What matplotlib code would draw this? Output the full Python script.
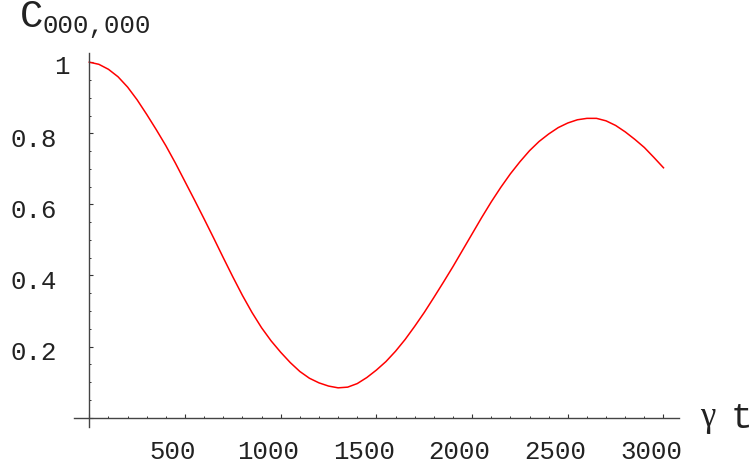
import numpy as np
import matplotlib as mpl

mpl.use("Agg")
import matplotlib.pyplot as plt
from matplotlib.ticker import MultipleLocator

###############################################################################

gamma_t = list(range(0, 3001, 50))
c_000 = [
    1.000, 0.994, 0.980, 0.959, 0.930, 0.894, 0.853, 0.810, 0.765, 0.716,
    0.664, 0.612, 0.559, 0.505, 0.450, 0.396, 0.344, 0.296, 0.253, 0.216,
    0.184, 0.155, 0.130, 0.111, 0.098, 0.089, 0.084, 0.086, 0.096, 0.113,
    0.134, 0.158, 0.187, 0.220, 0.257, 0.296, 0.338, 0.381, 0.425, 0.471,
    0.517, 0.563, 0.607, 0.648, 0.686, 0.720, 0.751, 0.777, 0.798, 0.816,
    0.829, 0.838, 0.842, 0.842, 0.835, 0.822, 0.804, 0.783, 0.760, 0.732,
    0.703,
]

x_ticks = [500, 1000, 1500, 2000, 2500, 3000]
y_ticks = [0.2, 0.4, 0.6, 0.8, 1.0]
y_tick_labels = ["0.2", "0.4", "0.6", "0.8", "1"]

###############################################################################

W, H = 754, 467
fig = plt.figure(figsize=(W / 100, H / 100), dpi=100)

# axes box in pixels (left, right, top, bottom)
left_px, right_px, top_px, bottom_px = 74, 679, 53.3, 427.3
ax = fig.add_axes(
    [
        left_px / W,
        1 - bottom_px / H,
        (right_px - left_px) / W,
        (bottom_px - top_px) / H,
    ]
)
ax.set_xlim(-80, 3081)
ax.set_ylim(-0.027, 1.025)

ax.plot(gamma_t, c_000, color="#ff0000", lw=1.1)

# Mathematica-style axes crossing at the origin
for side in ["top", "right"]:
    ax.spines[side].set_visible(False)
ax.spines["left"].set_position(("data", 0))
ax.spines["bottom"].set_position(("data", 0))
for side in ["left", "bottom"]:
    ax.spines[side].set_color("#444444")
    ax.spines[side].set_linewidth(1.0)

ax.xaxis.set_major_locator(MultipleLocator(500))
ax.xaxis.set_minor_locator(MultipleLocator(100))
ax.yaxis.set_major_locator(MultipleLocator(0.2))
ax.yaxis.set_minor_locator(MultipleLocator(0.05))
ax.tick_params(which="both", direction="in", color="#333333",
               labelbottom=False, labelleft=False)
ax.tick_params(which="major", length=2.9, width=0.8)
ax.tick_params(which="minor", length=1.6, width=0.7)

mono = "Liberation Mono"
fs = 18.5

for xv in x_ticks:
    ax.annotate(str(xv), xy=(xv, 0), xytext=(-12.5, -41.3),
                textcoords="offset pixels", ha="center", va="baseline",
                family=mono, fontsize=fs, color="#222222",
                annotation_clip=False)

for yv, lbl in zip(y_ticks, y_tick_labels):
    if lbl == "1":
        off = (-27.8, -11.7)
    else:
        off = (-55.3, -13.3)
    ax.annotate(lbl, xy=(0, yv), xytext=off,
                textcoords="offset pixels", ha="center", va="baseline",
                family=mono, fontsize=fs, color="#222222",
                annotation_clip=False)

# axis titles
fig.text(20 / W, 1 - 27 / H, "C", family=mono, fontsize=28,
         ha="left", va="baseline", color="#222222")
fig.text(43 / W, 1 - 33 / H, "000,000", family=mono, fontsize=fs,
         ha="left", va="baseline", color="#222222")
fig.text(700 / W, 1 - 425.5 / H, "\u03b3", family="Liberation Serif",
         fontsize=25, ha="left", va="baseline", color="#222222")
fig.text(731 / W, 1 - 428.5 / H, "t", family=mono, fontsize=26,
         ha="left", va="baseline", color="#222222")

plt.savefig("out.png", dpi=100)
plt.close()
